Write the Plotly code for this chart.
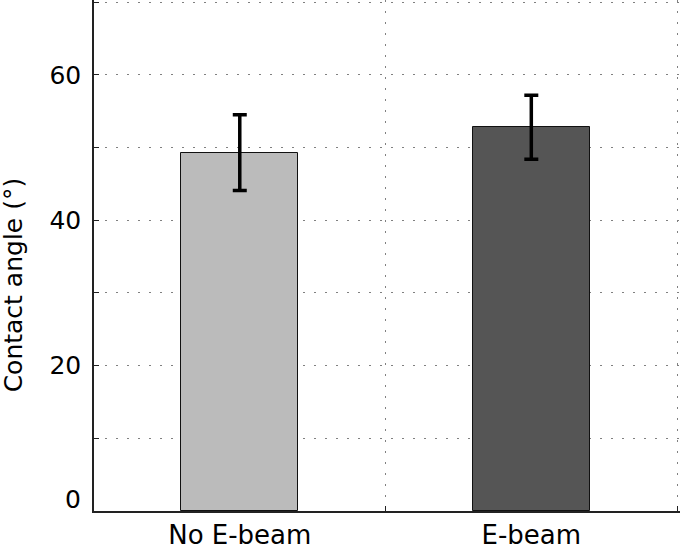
import plotly.graph_objects as go

categories = ["No E-beam", "E-beam"]
positions = [1, 2]
values = [49.3, 52.8]
errors = [5.2, 4.4]
bar_colors = ["#bbbbbb", "#555555"]
y_tickvals = [0, 10, 20, 30, 40, 50, 60, 70]
y_ticktext = ["", "", "20", "", "40", "", "60", ""]
x_gridvals = [1.5, 2.5]

FONT = "DejaVu Sans"
GRID = "#808080"
DASH = "1.5px,9.5px"

fig = go.Figure()
fig.add_trace(go.Bar(
    x=positions, y=values, width=0.4,
    marker=dict(color=bar_colors, line=dict(color="#111111", width=1)),
    error_y=dict(type="data", array=errors, visible=True,
                 color="black", thickness=3.5, width=7),
    showlegend=False,
))
# empty trace so the overlay axis (vertical grid) is drawn
fig.add_trace(go.Scatter(x=[], y=[], xaxis="x2", showlegend=False, hoverinfo="skip"))

fig.update_layout(
    width=680, height=549,
    margin=dict(l=94, r=0, t=0, b=38),
    paper_bgcolor="white", plot_bgcolor="white",
    font=dict(family=FONT, size=24, color="black"),
    xaxis=dict(range=[0.5, 2.51], tickvals=positions, ticktext=categories,
               ticks="", showgrid=False, zeroline=False,
               showline=True, linecolor="#222222", linewidth=1.5,
               tickfont=dict(size=26, family=FONT)),
    xaxis2=dict(range=[0.5, 2.51], overlaying="x", side="bottom",
                tickvals=x_gridvals, showticklabels=False,
                ticks="inside", ticklen=5, tickcolor="#222222",
                showgrid=True, gridcolor=GRID, griddash=DASH, gridwidth=1,
                zeroline=False, showline=False),
    yaxis=dict(range=[0, 70.3], tickvals=y_tickvals, ticktext=y_ticktext,
               ticks="inside", ticklen=5, tickcolor="#222222",
               showgrid=True, gridcolor=GRID, griddash=DASH, gridwidth=1,
               zeroline=False, showline=True, linecolor="#222222", linewidth=1.5,
               ticklabelstandoff=6,
               tickfont=dict(size=25, family=FONT)),
    bargap=0,
)

fig.add_annotation(text="0", xref="paper", yref="y", x=0, y=y_tickvals[0],
                   xanchor="right", yanchor="middle", xshift=-11, yshift=12,
                   showarrow=False, font=dict(size=25, family=FONT))
fig.add_annotation(text="Contact angle (°)", xref="paper", yref="paper",
                   x=-0.137, y=0.443, textangle=-90, xanchor="center", yanchor="middle",
                   showarrow=False, font=dict(size=25, family=FONT))

fig.write_html("out.html", config={"displayModeBar": False},
               post_script="document.body.style.margin='0px';")
